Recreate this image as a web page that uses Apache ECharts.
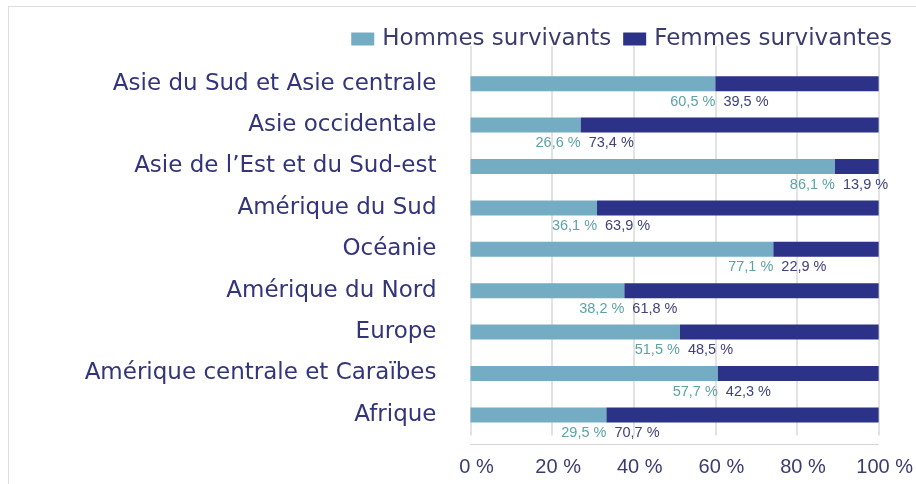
<!DOCTYPE html>
<html>
<head>
<meta charset="utf-8">
<script src="https://cdn.jsdelivr.net/npm/echarts@6/dist/echarts.min.js"></script>
<style>
  html, body { margin: 0; padding: 0; background: #fff; }
  #wrap { position: relative; width: 916px; height: 484px; }
  #chart { width: 916px; height: 484px; }
  #frame { position: absolute; left: 8px; top: 6px; right: 0; bottom: 0;
           border-left: 1px solid #dedede; border-top: 1px solid #dedede; pointer-events: none; }
</style>
</head>
<body>
<div id="wrap">
  <div id="chart"></div>
  <div id="frame"></div>
</div>
<script>
// régions, de haut en bas
var categories = ['Asie du Sud et Asie centrale', 'Asie occidentale', 'Asie de l\u2019Est et du Sud-est',
  'Amérique du Sud', 'Océanie', 'Amérique du Nord', 'Europe', 'Amérique centrale et Caraïbes', 'Afrique'];
// longueur des barres telle que dessinée (en %)
var hommesBarres = [60, 27, 89.3, 31, 74.2, 37.7, 51.3, 60.6, 33.3];
var femmesBarres = [40, 73, 10.7, 69, 25.8, 62.3, 48.7, 39.4, 66.7];
// valeurs affichées sous les barres
var hommesLabels = [60.5, 26.6, 86.1, 36.1, 77.1, 38.2, 51.5, 57.7, 29.5];
var femmesLabels = [39.5, 73.4, 13.9, 63.9, 22.9, 61.8, 48.5, 42.3, 70.7];
var xTicks = [0, 20, 40, 60, 80, 100];

function fr(v) {
  return v.toFixed(1).replace('.', ',') + ' %';
}

var chart = echarts.init(document.getElementById('chart'));
var option = {
  animation: false,
  legend: {
    data: ['Hommes survivants', 'Femmes survivantes'],
    right: 19,
    top: 21,
    icon: 'rect',
    itemWidth: 23,
    itemHeight: 13,
    itemGap: 12,
    textStyle: {
      fontFamily: 'DejaVu Sans',
      fontSize: 23,
      lineHeight: 26,
      color: '#3a3c6e',
      padding: [0, 0, 0, 3]
    }
  },
  grid: {
    left: 470.5,
    right: 35,
    top: 63,
    height: 372.6
  },
  xAxis: [
    {
      type: 'value',
      min: xTicks[0],
      max: xTicks[xTicks.length - 1],
      interval: 20,
      offset: 8.5,
      axisLine: { show: true, lineStyle: { color: '#d4d4d4', width: 1 } },
      axisTick: { show: false },
      splitLine: { show: true, lineStyle: { color: '#dadada', width: 1.5 } },
      axisLabel: {
        margin: 13,
        fontFamily: 'Liberation Sans',
        fontSize: 20,
        color: '#3a3c6e',
        padding: [0, 0, 0, 12],
        formatter: '{value} %'
      }
    },
    {
      // petits traits sous l'axe
      type: 'value',
      min: xTicks[0],
      max: xTicks[xTicks.length - 1],
      interval: 20,
      offset: 0,
      axisLine: { show: false },
      axisTick: { show: true, length: 17, lineStyle: { color: '#dadada', width: 1.5 } },
      splitLine: { show: false },
      axisLabel: { show: false }
    }
  ],
  yAxis: {
    type: 'category',
    inverse: true,
    data: categories,
    axisLine: { show: false },
    axisTick: { show: false },
    axisLabel: {
      margin: 34,
      fontFamily: 'DejaVu Sans',
      fontSize: 23,
      color: '#32357a'
    }
  },
  series: [
    {
      name: 'Hommes survivants',
      type: 'bar',
      stack: 'total',
      barWidth: 15,
      data: hommesBarres,
      itemStyle: { color: '#74adc3' },
      label: {
        show: true,
        position: ['100%', '100%'],
        align: 'right',
        verticalAlign: 'top',
        offset: [0, 3],
        fontFamily: 'Liberation Sans',
        fontSize: 14.5,
        lineHeight: 15,
        color: '#5ea2a4',
        formatter: function (p) { return fr(hommesLabels[p.dataIndex]); }
      }
    },
    {
      name: 'Femmes survivantes',
      type: 'bar',
      stack: 'total',
      barWidth: 15,
      data: femmesBarres,
      itemStyle: { color: '#2d3289' },
      label: {
        show: true,
        position: [0, '100%'],
        align: 'left',
        verticalAlign: 'top',
        offset: [8, 3],
        fontFamily: 'Liberation Sans',
        fontSize: 14.5,
        lineHeight: 15,
        color: '#3f427c',
        formatter: function (p) { return fr(femmesLabels[p.dataIndex]); }
      }
    }
  ]
};
chart.setOption(option);
</script>
</body>
</html>
